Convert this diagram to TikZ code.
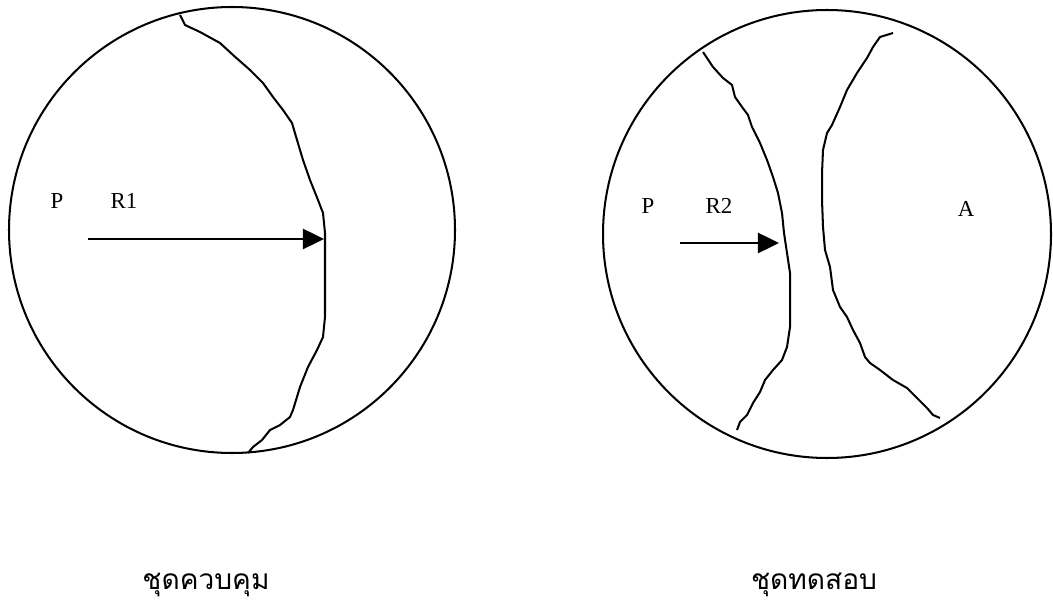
\documentclass[tikz,border=0pt]{standalone}
\usepackage{fontspec}
\setmainfont{Liberation Serif}
\newfontfamily\thaifont[Script=Thai]{Loma}
\usetikzlibrary{arrows.meta}

\begin{document}
\begin{tikzpicture}[x=0.02cm,y=-0.02cm,line width=1.15pt,>={Triangle[length=12pt,width=11.5pt]},
    lbl/.style={inner sep=0pt,font=\fontsize{13}{15}\selectfont},
    setname/.style={inner sep=0pt,font=\thaifont\fontsize{16}{19}\selectfont}]
    \useasboundingbox (0,0) rectangle (1053,607);
    % control set
    \draw (232,230) circle [radius=223];
    \draw (180,15) -- (185,25) -- (200,32) -- (220,43) -- (233,55) -- (250,70) -- (263,83)
        -- (273,97) -- (283,110) -- (292,123) -- (297,140) -- (303,160) -- (310,180)
        -- (318,200) -- (323,213) -- (325,233) -- (325,253) -- (325,283) -- (325,317)
        -- (323,337) -- (317,350) -- (308,367) -- (300,387) -- (293,410) -- (290,417)
        -- (280,425) -- (270,430) -- (262,440) -- (253,447) -- (248,453);
    \node[lbl] (p1) at (57,201) {P};
    \node[lbl] (r1) at (124,201) {R1};
    \coordinate (s1) at (88,239);
    \coordinate (e1) at (324,239);
    \draw[->] (s1) -- (e1);
    \node[setname] (c1) at (206,585) {ชุดควบคุม};
    % test set
    \draw (827,234) circle [radius=224];
    \draw (703,52) -- (707,58) -- (713,67) -- (723,78) -- (732,85) -- (735,97) -- (742,107)
        -- (748,115) -- (752,127) -- (760,143) -- (767,160) -- (773,177) -- (778,193)
        -- (782,213) -- (784,233) -- (787,253) -- (790,273) -- (790,300) -- (790,327)
        -- (787,347) -- (782,360) -- (773,370) -- (765,380) -- (760,392) -- (753,403)
        -- (747,415) -- (740,422) -- (737,430);
    \draw (893,33) -- (880,37) -- (873,47) -- (867,58) -- (857,73) -- (847,90) -- (840,107)
        -- (832,125) -- (827,133) -- (823,150) -- (822,173) -- (822,200) -- (823,227)
        -- (825,250) -- (830,267) -- (833,290) -- (840,307) -- (847,317) -- (853,330)
        -- (860,343) -- (865,357) -- (870,363) -- (880,370) -- (893,380) -- (907,388)
        -- (917,398) -- (927,408) -- (933,415) -- (940,418);
    \node[lbl] (p2) at (648,206) {P};
    \node[lbl] (r2) at (719,206) {R2};
    \node[lbl] (a2) at (966,209) {A};
    \coordinate (s2) at (680,243);
    \coordinate (e2) at (779,243);
    \draw[->] (s2) -- (e2);
    \node[setname] (c2) at (814,585) {ชุดทดสอบ};
\end{tikzpicture}
\end{document}
